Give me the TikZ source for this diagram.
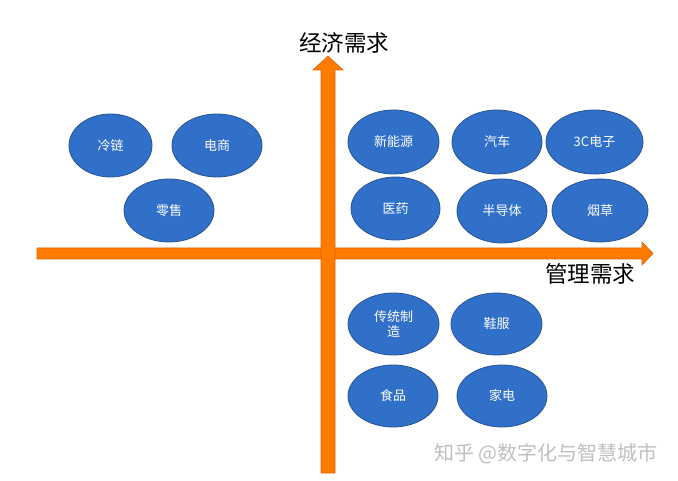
\documentclass[tikz,border=0pt]{standalone}
\usepackage{fontspec}
\setmainfont{Noto Sans CJK SC}
\usetikzlibrary{shapes.geometric}
\definecolor{arroworange}{RGB}{255,124,0}
\definecolor{arrowedge}{RGB}{220,100,10}
\definecolor{bubble}{RGB}{49,112,200}
\definecolor{bubbleedge}{RGB}{40,84,150}
\tikzset{
  bubblenode/.style={ellipse, fill=bubble, draw=bubbleedge, line width=0.8pt,
    minimum width=90pt, minimum height=63pt, inner sep=0pt,
    text=white, font=\fontsize{13pt}{15pt}\selectfont, align=center},
  axislabel/.style={font=\fontsize{22.5pt}{24pt}\selectfont, text=black, inner sep=0pt},
  blockarrow/.style={fill=arroworange, draw=arrowedge, line width=0.6pt},
}
\begin{document}
\begin{tikzpicture}[x=1pt,y=-1pt]
\useasboundingbox (0,0) rectangle (678,481);
% horizontal arrow
\draw[blockarrow] (37,248) -- (642,248) -- (642,242) -- (653,253.5) -- (642,265) -- (642,259) -- (37,259) -- cycle;
% vertical arrow
\draw[blockarrow] (321,473) -- (321,70) -- (313,70) -- (328,56) -- (343,70) -- (335,70) -- (335,473) -- cycle;
% axis labels
\node[axislabel] (ylab) at (344,43) {经济需求};
\node[axislabel] (xlab) at (590,274) {管理需求};
% bubbles
\node[bubblenode, minimum width=83pt] (lenglian) at (110.5,145.5) {冷链};
\node[bubblenode] (dianshang) at (217,145.5) {电商};
\node[bubblenode] (lingshou) at (169,210.5) {零售};
\node[bubblenode, minimum width=91pt, minimum height=64pt] (xinnengyuan) at (393.5,142) {新能源};
\node[bubblenode, minimum height=64pt] (qiche) at (497,142) {汽车};
\node[bubblenode, minimum width=97pt, minimum height=64pt] (sanc) at (594.5,142) {3C电子};
\node[bubblenode, minimum width=89pt] (yiyao) at (395.5,208.5) {医药};
\node[bubblenode, minimum height=64pt] (bandaoti) at (502,211) {半导体};
\node[bubblenode, minimum width=96pt] (yancao) at (600,210.5) {烟草};
\node[bubblenode, minimum width=91pt, minimum height=62pt] (chuantong) at (393.5,324) {传统制\\造};
\node[bubblenode, minimum width=91pt, minimum height=62pt] (xiefu) at (496.5,324) {鞋服};
\node[bubblenode, minimum height=62pt] (shipin) at (393,396) {食品};
\node[bubblenode, minimum height=62pt] (jiadian) at (502,396) {家电};
% watermark
\node[font=\fontsize{20pt}{22pt}\selectfont, text=black!25, inner sep=0pt] (wm) at (546,454) {知乎 @数字化与智慧城市};
\end{tikzpicture}
\end{document}
